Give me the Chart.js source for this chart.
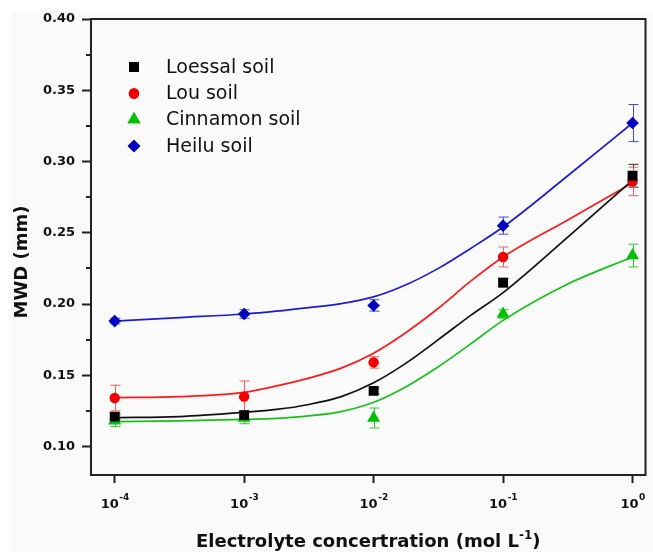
<!DOCTYPE html>
<html lang="en">
<head>
    <meta charset="UTF-8">
    <title>MWD vs electrolyte concentration</title>
    <script src="https://cdn.jsdelivr.net/npm/chart.js"></script>
    <style>
        body {
            margin: 0;
            background-color: white;
        }
        canvas {
            display: block;
        }
    </style>
</head>
<body>
    <canvas id="mwdChart" width="653" height="552"></canvas>
    <script>
        // measured points (x = electrolyte concentration, mol/L)
        const xValues = [0.0001, 0.001, 0.01, 0.1, 1];
        const loessal = [0.121, 0.122, 0.139, 0.215, 0.290];
        const lou = [0.134, 0.135, 0.159, 0.233, 0.286];
        const cinnamon = [0.118, 0.120, 0.120, 0.193, 0.234];
        const heilu = [0.188, 0.193, 0.199, 0.255, 0.327];

        // error bars
        const loessalErr = [0.002, 0.003, 0.002, 0.003, 0.008];
        const louErr = [0.009, 0.011, 0.004, 0.007, 0.010];
        const cinnamonErr = [0.004, 0.004, 0.007, 0.003, 0.008];
        const heiluErr = [0.002, 0.003, 0.004, 0.006, 0.013];

        // fitted curves
        const fitX = [0.0001, 0.000316, 0.001, 0.00178, 0.00316, 0.00562, 0.01, 0.0178, 0.0316, 0.0562, 0.1, 0.316, 1];
        const loessalFit = [0.1203, 0.121, 0.124, 0.126, 0.1295, 0.135, 0.1447, 0.1585, 0.175, 0.192, 0.208, 0.247, 0.287];
        const louFit = [0.1343, 0.135, 0.138, 0.1425, 0.148, 0.155, 0.1655, 0.180, 0.197, 0.216, 0.233, 0.259, 0.285];
        const cinnamonFit = [0.1175, 0.118, 0.119, 0.1198, 0.1215, 0.1245, 0.131, 0.142, 0.156, 0.172, 0.1885, 0.214, 0.233];
        const heiluFit = [0.188, 0.1905, 0.193, 0.195, 0.1975, 0.2003, 0.205, 0.2135, 0.225, 0.239, 0.254, 0.290, 0.327];

        const seriesNames = ['Loessal soil', 'Lou soil', 'Cinnamon soil', 'Heilu soil'];

        const xTicks = [0.0001, 0.001, 0.01, 0.1, 1];
        const xTickBase = '10';
        const xTickExponents = ['-4', '-3', '-2', '-1', '0'];
        const yTicks = [0.10, 0.15, 0.20, 0.25, 0.30, 0.35, 0.40];
        const yTickLabels = ['0.10', '0.15', '0.20', '0.25', '0.30', '0.35', '0.40'];
        const yMinorTicks = [0.125, 0.175, 0.225, 0.275, 0.325, 0.375];

        const styles = [
            { color: '#000000', line: '#111111', err: '#333333', point: 'rect', radius: 7 },
            { color: '#f00000', line: '#ff1a1a', err: '#ff5a5a', point: 'circle', radius: 5.2 },
            { color: '#00c000', line: '#19c019', err: '#2fcf2f', point: 'triangle', radius: 7.5 },
            { color: '#0000c0', line: '#1c1cd0', err: '#4646f0', point: 'rectRot', radius: 6.3 }
        ];

        const pointSets = [loessal, lou, cinnamon, heilu];
        const errSets = [loessalErr, louErr, cinnamonErr, heiluErr];
        const fitSets = [loessalFit, louFit, cinnamonFit, heiluFit];

        const datasets = [];
        // scatter points first so they are painted on top of the curves
        pointSets.forEach((vals, i) => {
            datasets.push({
                label: seriesNames[i],
                data: vals.map((v, j) => ({ x: xValues[j], y: v })),
                showLine: false,
                pointStyle: styles[i].point,
                pointRadius: styles[i].radius,
                pointBackgroundColor: styles[i].color,
                pointBorderColor: styles[i].color,
                pointBorderWidth: 0
            });
        });
        fitSets.forEach((vals, i) => {
            datasets.push({
                label: seriesNames[i] + ' fit',
                data: vals.map((v, j) => ({ x: fitX[j], y: v })),
                borderColor: styles[i].line,
                borderWidth: 1.7,
                pointRadius: 0,
                cubicInterpolationMode: 'monotone',
                fill: false
            });
        });

        const tickFont = { family: 'DejaVu Sans', size: 13, weight: 'bold' };

        // background, error bars, frame, legend, x tick labels and axis titles
        const decorPlugin = {
            id: 'decor',
            beforeDraw(chart) {
                const ctx = chart.ctx;
                ctx.save();
                ctx.fillStyle = '#fafafa';
                ctx.fillRect(11, 11, chart.width - 11, chart.height - 11);
                ctx.restore();
            },
            beforeDatasetsDraw(chart) {
                const ctx = chart.ctx;
                const xs = chart.scales.x, ys = chart.scales.y;
                ctx.save();
                ctx.lineWidth = 1;
                errSets.forEach((errs, i) => {
                    ctx.strokeStyle = styles[i].err;
                    errs.forEach((e, j) => {
                        const px = Math.round(xs.getPixelForValue(xValues[j])) + 0.5;
                        const top = ys.getPixelForValue(pointSets[i][j] + e);
                        const bot = ys.getPixelForValue(pointSets[i][j] - e);
                        ctx.beginPath();
                        ctx.moveTo(px, top);
                        ctx.lineTo(px, bot);
                        ctx.moveTo(px - 5, top);
                        ctx.lineTo(px + 5, top);
                        ctx.moveTo(px - 5, bot);
                        ctx.lineTo(px + 5, bot);
                        ctx.stroke();
                    });
                });
                ctx.restore();
            },
            afterDraw(chart) {
                const ctx = chart.ctx;
                const a = chart.chartArea;
                const xs = chart.scales.x, ys = chart.scales.y;
                ctx.save();
                // frame
                ctx.strokeStyle = '#222';
                ctx.lineWidth = 2;
                ctx.strokeRect(a.left, a.top, a.right - a.left, a.bottom - a.top);
                // minor y ticks
                yMinorTicks.forEach(v => {
                    const py = Math.round(ys.getPixelForValue(v));
                    ctx.beginPath();
                    ctx.moveTo(a.left - 5, py);
                    ctx.lineTo(a.left, py);
                    ctx.stroke();
                });

                // x tick labels: 10 with a raised exponent
                ctx.fillStyle = '#111';
                ctx.textBaseline = 'alphabetic';
                ctx.textAlign = 'left';
                xTicks.forEach((v, i) => {
                    const px = xs.getPixelForValue(v);
                    ctx.font = 'bold 13px "DejaVu Sans"';
                    const wb = ctx.measureText(xTickBase).width;
                    ctx.font = 'bold 9px "DejaVu Sans"';
                    const we = ctx.measureText(xTickExponents[i]).width;
                    const x0 = px - (wb + we) / 2;
                    ctx.font = 'bold 13px "DejaVu Sans"';
                    ctx.fillText(xTickBase, x0, 508);
                    ctx.font = 'bold 9px "DejaVu Sans"';
                    ctx.fillText(xTickExponents[i], x0 + wb + 0.5, 500);
                });

                // legend
                const rows = [67, 93.5, 119.5, 146];
                ctx.font = '19px "DejaVu Sans"';
                ctx.textBaseline = 'middle';
                seriesNames.forEach((name, i) => {
                    ctx.fillStyle = styles[i].color;
                    Chart.helpers.drawPoint(ctx, {
                        pointStyle: styles[i].point,
                        radius: styles[i].radius,
                        borderWidth: 0,
                        rotation: 0
                    }, 134, rows[i]);
                    ctx.fill();
                    ctx.fillStyle = '#111';
                    ctx.fillText(name, 166, rows[i] + 1);
                });

                // y title
                ctx.fillStyle = '#111';
                ctx.font = 'bold 18px "DejaVu Sans"';
                ctx.save();
                ctx.translate(22, 262);
                ctx.rotate(-Math.PI / 2);
                ctx.textAlign = 'center';
                ctx.textBaseline = 'middle';
                ctx.fillText('MWD (mm)', 0, 0);
                ctx.restore();

                // x title with superscript
                const main = 'Electrolyte concertration (mol L';
                const sup = '-1';
                const tail = ')';
                ctx.textBaseline = 'alphabetic';
                ctx.textAlign = 'left';
                ctx.font = 'bold 18px "DejaVu Sans"';
                const wMain = ctx.measureText(main).width;
                const wTail = ctx.measureText(tail).width;
                ctx.font = 'bold 12px "DejaVu Sans"';
                const wSup = ctx.measureText(sup).width;
                let x = (a.left + a.right) / 2 - (wMain + wSup + wTail) / 2;
                const base = 547;
                ctx.font = 'bold 18px "DejaVu Sans"';
                ctx.fillText(main, x, base);
                x += wMain;
                ctx.font = 'bold 12px "DejaVu Sans"';
                ctx.fillText(sup, x, base - 8);
                x += wSup;
                ctx.font = 'bold 18px "DejaVu Sans"';
                ctx.fillText(tail, x, base);
                ctx.restore();
            }
        };

        const config = {
            type: 'line',
            data: { datasets: datasets },
            options: {
                responsive: false,
                animation: false,
                layout: { padding: { top: 19, right: 2, left: 0, bottom: 0 } },
                scales: {
                    x: {
                        type: 'logarithmic',
                        min: Math.pow(10, -4.183),
                        max: Math.pow(10, 0.1),
                        afterBuildTicks: s => { s.ticks = xTicks.map(v => ({ value: v })); },
                        afterFit: s => { s.height = 77; },
                        grid: {
                            drawOnChartArea: false,
                            drawTicks: true,
                            tickLength: 8,
                            tickWidth: 2,
                            tickColor: '#222'
                        },
                        border: { display: false },
                        ticks: { display: false }
                    },
                    y: {
                        type: 'linear',
                        min: 0.08,
                        max: 0.40,
                        afterBuildTicks: s => { s.ticks = yTicks.map(v => ({ value: v })); },
                        afterFit: s => { s.width = 91; },
                        grid: {
                            drawOnChartArea: false,
                            drawTicks: true,
                            tickLength: 9,
                            tickWidth: 2,
                            tickColor: '#222'
                        },
                        border: { display: false },
                        ticks: {
                            callback: (v, i) => yTickLabels[i],
                            font: tickFont,
                            color: '#111',
                            padding: 7
                        }
                    }
                },
                plugins: {
                    legend: { display: false },
                    tooltip: { enabled: false }
                }
            },
            plugins: [decorPlugin]
        };

        const ctx = document.getElementById('mwdChart').getContext('2d');
        const chart = new Chart(ctx, config);
    </script>
</body>
</html>
